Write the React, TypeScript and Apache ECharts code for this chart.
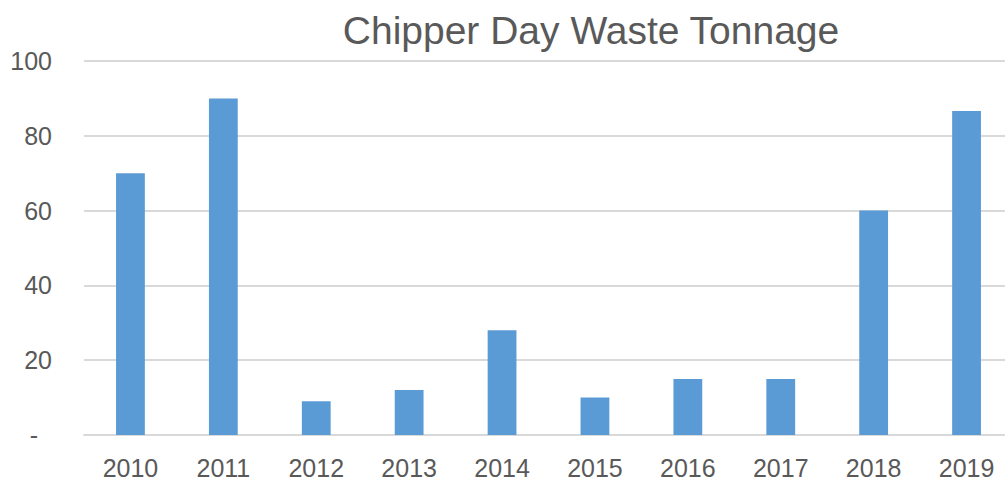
import React, { useEffect, useRef } from "react";
import * as echarts from "echarts";

const titleText = "Chipper Day Waste Tonnage";
const years = ["2010", "2011", "2012", "2013", "2014", "2015", "2016", "2017", "2018", "2019"];
const tonnage = [70, 90, 9, 12, 28, 10, 15, 15, 60, 86.6];
const yTicks = { min: 0, max: 100, interval: 20 };

const FONT = "'Liberation Sans', Arial, Helvetica, sans-serif";
const TEXT = "#595959";
const GRID = "#d9d9d9";
const BAR = "#5b9bd5";

export default function App() {
  const ref = useRef<HTMLDivElement>(null);
  useEffect(() => {
    if (!ref.current) return;
    const chart = echarts.init(ref.current, undefined, { renderer: "svg" });
    chart.setOption({
      animation: false,
      backgroundColor: "#ffffff",
      textStyle: { fontFamily: FONT },
      graphic: [
        {
          type: "text",
          x: 591,
          y: 30,
          style: {
            text: titleText,
            fontSize: 39,
            fontFamily: FONT,
            fill: TEXT,
            align: "center",
            verticalAlign: "middle",
          },
        },
      ],
      grid: { left: 84, top: 61, right: 0, bottom: 45, containLabel: false },
      xAxis: {
        type: "category",
        data: years,
        axisLine: { show: true, lineStyle: { color: GRID, width: 2 } },
        axisTick: { show: false },
        axisLabel: { color: TEXT, fontSize: 25, fontFamily: FONT, margin: 20 },
      },
      yAxis: {
        type: "value",
        min: yTicks.min,
        max: yTicks.max,
        interval: yTicks.interval,
        axisLine: { show: false },
        axisTick: { show: false },
        splitLine: { lineStyle: { color: GRID, width: 2 } },
        axisLabel: {
          color: TEXT,
          fontSize: 25,
          fontFamily: FONT,
          margin: 32,
          formatter: (v: number) => (v === 0 ? "{dash|-}" : String(v)),
          rich: { dash: { fontSize: 25, color: TEXT, fontFamily: FONT, padding: [0, 14, 0, 0] } },
        },
      },
      series: [
        {
          type: "bar",
          data: tonnage,
          barWidth: "31%",
          itemStyle: { color: BAR },
        },
      ],
    });
    return () => chart.dispose();
  }, []);
  return (
    <div
      style={{ position: "fixed", left: 0, top: 0, width: 1005, height: 480, overflow: "hidden", background: "#fff" }}
    >
      <div ref={ref} style={{ width: 1013, height: 480 }} />
    </div>
  );
}
